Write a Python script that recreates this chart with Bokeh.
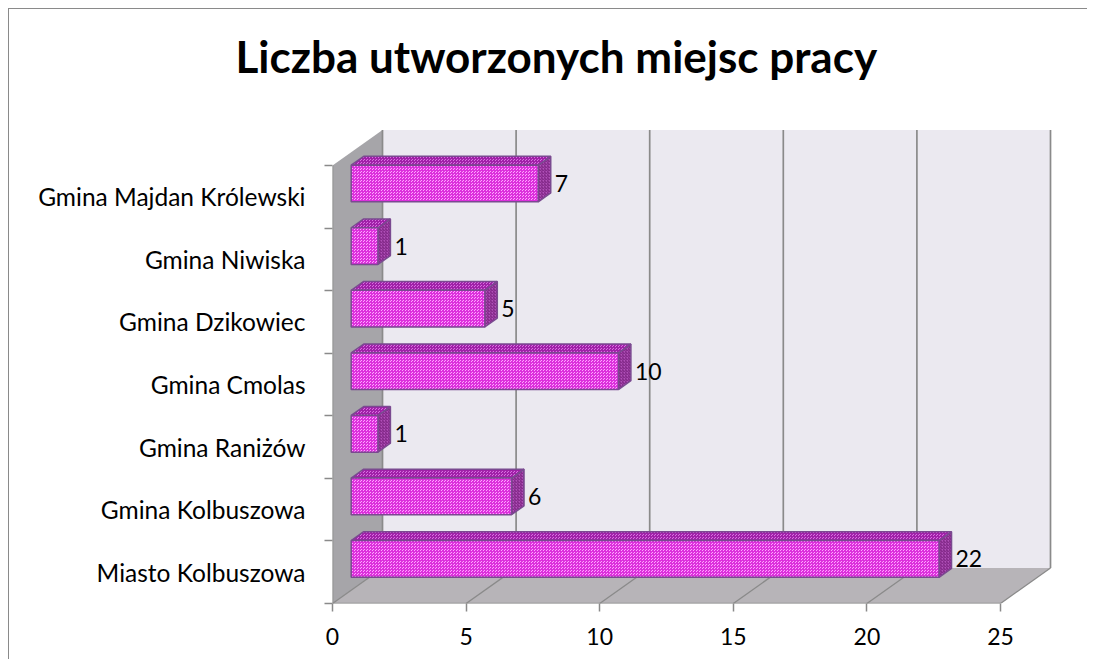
from bokeh.plotting import figure
from bokeh.models import ColumnDataSource, FixedTicker, LabelSet, Range1d, Title
from bokeh.core.properties import value
from bokeh.embed import file_html
from bokeh.resources import INLINE

# ---- data ----
categories = ["Miasto Kolbuszowa", "Gmina Kolbuszowa", "Gmina Raniżów", "Gmina Cmolas",
              "Gmina Dzikowiec", "Gmina Niwiska", "Gmina Majdan Królewski"]
values = [22, 6, 1, 10, 5, 1, 7]
x_ticks = [0, 5, 10, 15, 20, 25]
title_text = "Liczba utworzonych miejsc pracy"

# ---- geometry (oblique 3D projection in data units) ----
X_MAX = 25
N = len(categories)
PX_X = 26.72      # px per value unit
PX_Y = 62.57      # px per category
DX, DY = 50 / PX_X, 35.5 / PX_Y   # full depth vector
F0, F1 = 0.374, 0.624             # bar depth slice
H = 0.586                          # bar thickness (category units)

FONT = "Lato"
GRID = "#8a8a8a"

FW, FH = 728, 477
p = figure(frame_width=FW, frame_height=FH,
           x_range=Range1d(0, FW / PX_X), y_range=Range1d(0, FH / PX_Y),
           output_backend="svg", toolbar_location=None,
           min_border_left=323, min_border_right=27, min_border_top=117, min_border_bottom=56)
p.outline_line_color = None
p.xgrid.visible = False
p.ygrid.visible = False
p.background_fill_color = "white"
p.border_fill_color = "white"
p.styles = {"margin-left": "8px", "margin-top": "8px",
            "border-top": "1px solid #8a8a8a", "border-left": "1px solid #8a8a8a"}

# title
p.title.text = title_text
p.title.align = "left"
p.title.offset = -97
p.title.standoff = 30
p.title.text_font = FONT
p.title.text_font_style = "bold"
p.title.text_font_size = "44px"
p.title.text_color = "black"
# spacer between title and chart walls
p.add_layout(Title(text=" ", text_font_size="14px", standoff=12), "above")

# walls
p.patch([0, 0, DX, DX], [0, N, N + DY, DY], fill_color="#a6a5a9", line_color=None)
p.patch([0, X_MAX, X_MAX + DX, DX], [0, 0, DY, DY], fill_color="#b7b4b8", line_color=None)
p.patch([DX, X_MAX + DX, X_MAX + DX, DX], [DY, DY, N + DY, N + DY], fill_color="#ebe9f0", line_color=None)

# gridlines on back wall and floor
p.segment(x0=[t + DX for t in x_ticks], y0=[DY] * len(x_ticks),
          x1=[t + DX for t in x_ticks], y1=[N + DY] * len(x_ticks), line_color=GRID, line_width=1.7)
p.segment(x0=x_ticks, y0=[0] * len(x_ticks), x1=[t + DX for t in x_ticks], y1=[DY] * len(x_ticks),
          line_color=GRID, line_width=1.3)
# axis lines
p.segment(x0=[0, 0], y0=[0, 0], x1=[X_MAX, 0], y1=[0, N], line_color=GRID, line_width=1.6)

# bars
cy = [i + 0.5 for i in range(N)]
front_xs, front_ys, top_xs, top_ys, side_xs, side_ys = [], [], [], [], [], []
for c, v in zip(cy, values):
    x0, x1 = F0 * DX, v + F0 * DX
    y0, y1 = c - H / 2 + F0 * DY, c + H / 2 + F0 * DY
    ddx, ddy = (F1 - F0) * DX, (F1 - F0) * DY
    front_xs.append([x0, x1, x1, x0]); front_ys.append([y0, y0, y1, y1])
    top_xs.append([x0, x1, x1 + ddx, x0 + ddx]); top_ys.append([y1, y1, y1 + ddy, y1 + ddy])
    side_xs.append([x1, x1 + ddx, x1 + ddx, x1]); side_ys.append([y0, y0 + ddy, y1 + ddy, y1])

OUT = "#7a4a90"
p.patches(side_xs, side_ys, fill_color="#b050b8", hatch_pattern="right_diagonal_line",
          hatch_color="#7a2080", hatch_scale=3, hatch_weight=1, line_color=OUT, line_width=1.5)
p.patches(top_xs, top_ys, fill_color="#d870e0", hatch_pattern="criss_cross",
          hatch_color="#a020a8", hatch_scale=3, hatch_weight=1, line_color=OUT, line_width=1.5)
p.patches(front_xs, front_ys, fill_color="#ffa4ff", hatch_pattern="criss_cross",
          hatch_color="#dc30dc", hatch_scale=3, hatch_weight=1, line_color=OUT, line_width=1.5)

# data labels
lab_src = ColumnDataSource(dict(x=[v + F1 * DX for v in values], y=[c + F0 * DY for c in cy],
                                t=[str(v) for v in values]))
p.add_layout(LabelSet(x="x", y="y", text="t", source=lab_src, x_offset=4, text_baseline="middle",
                      text_font=value(FONT), text_font_size="23px", text_color="black"))

# axes
p.xaxis.ticker = FixedTicker(ticks=x_ticks)
p.xaxis.axis_line_color = None
p.xaxis.major_tick_line_color = GRID
p.xaxis.major_tick_line_width = 1.5
p.xaxis.major_tick_in = 0
p.xaxis.major_tick_out = 8
p.xaxis.minor_tick_line_color = None
p.xaxis.major_label_standoff = 16
p.xaxis.major_label_text_font = FONT
p.xaxis.major_label_text_font_size = "23px"
p.xaxis.major_label_text_color = "black"

p.yaxis.ticker = FixedTicker(ticks=cy, minor_ticks=list(range(N + 1)))
p.yaxis.major_label_overrides = {c: name for c, name in zip(cy, categories)}
p.yaxis.axis_line_color = None
p.yaxis.major_tick_line_color = None
p.yaxis.major_tick_in = 0
p.yaxis.major_tick_out = 0
p.yaxis.minor_tick_line_color = GRID
p.yaxis.minor_tick_line_width = 1.5
p.yaxis.minor_tick_in = 0
p.yaxis.minor_tick_out = 8
p.yaxis.major_label_standoff = 19
p.yaxis.major_label_text_font = FONT
p.yaxis.major_label_text_font_size = "24.5px"
p.yaxis.major_label_text_color = "black"

open("out.html", "w").write(file_html(p, INLINE))
